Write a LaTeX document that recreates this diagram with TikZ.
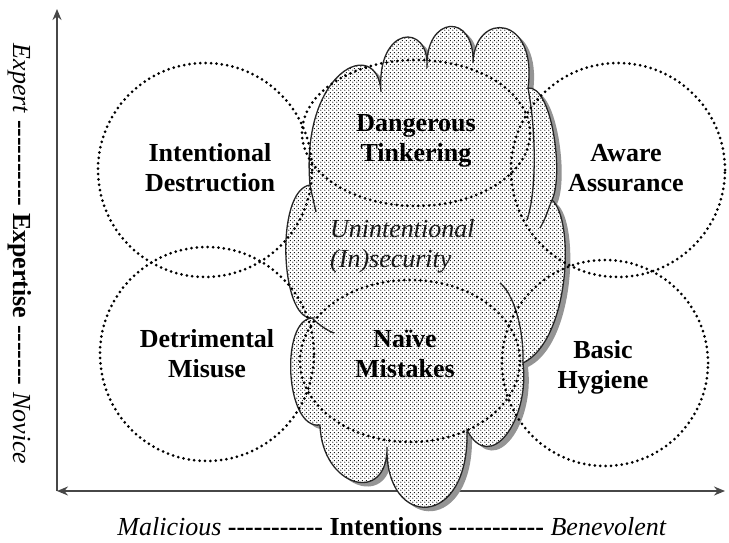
\documentclass[tikz,border=0pt]{standalone}
\usepackage{fontspec}
\setmainfont{Liberation Serif}
\usetikzlibrary{arrows.meta,shapes.geometric,patterns}
\pgfdeclarepatternformonly{stipple}{\pgfqpoint{0pt}{0pt}}{\pgfqpoint{4pt}{4pt}}{\pgfqpoint{4pt}{4pt}}{%
  \pgfpathcircle{\pgfqpoint{1pt}{1pt}}{0.72pt}%
  \pgfpathcircle{\pgfqpoint{3pt}{3pt}}{0.72pt}%
  \pgfusepath{fill}}
\newcommand\dashes[1]{\foreach \n in {1,...,#1}{-\kern0pt}}
\newcommand\cloudshape[1]{\path[#1] (310,185)
  .. controls (300,70) and (378,35) .. (381,92)
  .. controls (376,25) and (430,22) .. (427,68)
  .. controls (425,15) and (475,12) .. (473,63)
  .. controls (475,10) and (538,15) .. (528,88)
  .. controls (552,85) and (564,175) .. (552,200)
  .. controls (575,220) and (570,340) .. (523,363)
  .. controls (530,420) and (490,475) .. (467,430)
  .. controls (470,530) and (385,530) .. (387,447)
  .. controls (388,505) and (322,488) .. (320,425)
  .. controls (285,430) and (280,320) .. (312,318)
  .. controls (280,320) and (275,190) .. (310,185) -- cycle;}
\begin{document}
\begin{tikzpicture}[x=1pt,y=-1pt,
  axis/.style={draw=black!72, line width=1.6pt},
  cloudline/.style={draw=black!85, line width=1.3pt},
  region/.style={draw=black, line width=3pt, dash pattern=on 0pt off 5.4pt, line cap=round, inner sep=0pt},
  lab/.style={font=\fontsize{26}{30}\selectfont\bfseries, align=center, inner sep=0pt},
  axlab/.style={font=\fontsize{26}{30}\selectfont, inner sep=0pt, anchor=base}]
\useasboundingbox (0,0) rectangle (729,543);
% axes
\coordinate (O) at (57,491);
\coordinate (Ytop) at (57,9);
\coordinate (Xr) at (725,491);
\draw[axis, {Stealth[length=11pt,width=9pt]}-{Stealth[length=11pt,width=9pt]}] (O) -- (Xr);
\draw[axis, -{Stealth[length=11pt,width=9pt]}] (O) -- (Ytop);
% cloud
\cloudshape{fill=black!42, shift={(5,4)}}
\cloudshape{fill=white}
\cloudshape{pattern=stipple, pattern color=black}
\cloudshape{cloudline}
\draw[cloudline] (528,88) .. controls (536,130) and (537,190) .. (527,220);
\draw[cloudline] (500,283) .. controls (512,292) and (524,325) .. (523,363);
\draw[cloudline] (552,200) .. controls (548,210) and (545,220) .. (540,228);
\draw[cloudline] (312,318) .. controls (318,324) and (326,330) .. (334,333);
\draw[cloudline] (310,185) .. controls (312,195) and (314,203) .. (316,212);
% dotted regions
\node[region, circle, minimum size=214pt] (idc) at (205,170) {};
\node[region, circle, minimum size=214pt] (dmc) at (207,354) {};
\node[region, circle, minimum size=214pt] (aac) at (618,170) {};
\node[region, circle, minimum size=206pt] (bhc) at (605,363) {};
\node[region, ellipse, minimum width=228pt, minimum height=146pt] (dtc) at (416,133) {};
\node[region, ellipse, minimum width=220pt, minimum height=162pt] (nmc) at (410,361) {};
% labels
\node[lab] (id) at (210,168) {Intentional\\Destruction};
\node[lab] (dm) at (207,354) {Detrimental\\Misuse};
\node[lab] (dt) at (416,141) {Dangerous\\Tinkering};
\node[lab] (nm) at (405,354) {Naïve\\Mistakes};
\node[lab] (aa) at (626,168) {Aware\\Assurance};
\node[lab] (bh) at (603,367) {Basic\\Hygiene};
\node[font=\fontsize{26}{30}\selectfont\itshape, text=black!90, align=left, inner sep=0pt, anchor=north west] (ui) at (330,219) {Unintentional\\(In)security};
\node[axlab] (xlab) at (392,535) {\textit{Malicious} \textbf{\dashes{11}} \textbf{Intentions} \textbf{\dashes{11}} \textit{Benevolent}};
\node[axlab, rotate=-90] (ylab) at (13,254) {\textit{Expert} \textbf{\dashes{10}} \textbf{Expertise} \textbf{\dashes{7}} \textit{Novice}};
\end{tikzpicture}
\end{document}
